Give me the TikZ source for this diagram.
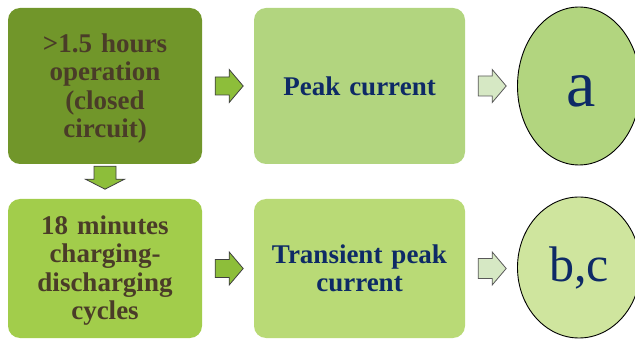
\documentclass[tikz,border=0pt]{standalone}
\usepackage{fontspec}
\setmainfont{Liberation Serif}
\usetikzlibrary{shapes.geometric,calc}

\definecolor{oliveDark}{HTML}{71962A}
\definecolor{limeMid}{HTML}{A2CD4B}
\definecolor{sageLight}{HTML}{B2D57F}
\definecolor{sageYellow}{HTML}{B9DA76}
\definecolor{paleLime}{HTML}{CFE59E}
\definecolor{arrowGreen}{HTML}{8DBE3A}
\definecolor{arrowPale}{HTML}{D6E8C4}
\definecolor{brownText}{HTML}{4A3C28}
\definecolor{navyText}{HTML}{0E2A66}

\tikzset{
  box/.style={rounded corners=12pt, inner sep=0pt, align=center,
    font=\fontsize{27}{28.5}\selectfont\bfseries},
  oval/.style={ellipse, draw=black, line width=0.9pt, inner sep=0pt,
    text=navyText},
  fatarrow/.style={fill=arrowGreen, draw=black!75, line width=0.8pt,
    line join=miter},
  palearrow/.style={fill=arrowPale, draw=black!65, line width=0.8pt,
    line join=miter},
}

\begin{document}
\begin{tikzpicture}[x=1pt,y=-1pt]
\useasboundingbox (0,0) rectangle (635,339);

% process boxes
\node[box, fill=oliveDark, text=brownText, minimum width=194pt, minimum height=156pt,
      text width=180pt] (op) at (105,86) {};
\node[box, text=brownText, text width=180pt] at ($(op.center)+(0,2.5)$)
      {>1.5 hours\\operation\\(closed\\circuit)};
\node[box, fill=limeMid, text=brownText, minimum width=194pt, minimum height=139pt,
      text width=180pt] (cyc) at (105,268.5) {};
\node[box, text=brownText, text width=180pt] at ($(cyc.center)+(0,2)$)
      {18 minutes\\charging-\\discharging\\cycles};
\node[box, fill=sageLight, text=navyText, minimum width=211pt, minimum height=156pt,
      text width=200pt] (peak) at (359.5,86) {Peak current};
\node[box, fill=sageYellow, text=navyText, minimum width=211pt, minimum height=139pt,
      text width=200pt] (trans) at (359.5,268.5) {Transient peak\\current};

% result ovals
\node[oval, fill=sageLight, minimum width=123pt, minimum height=158pt] (ra) at (579,86) {};
\node[text=navyText, inner sep=0pt, font=\fontsize{66}{66}\selectfont]
      at ($(ra.center)+(2,5)$) {a};
\node[oval, fill=paleLime, minimum width=123pt, minimum height=141pt,
      font=\fontsize{50}{50}\selectfont] (rbc) at (579,267.5) {b,c};

% block arrows between the boxes
\draw[fatarrow] ($(op.east)+(13,-9)$) -- ++(14,0) -- ++(0,-7.5) -- ++(14,16.5)
  -- ++(-14,16.5) -- ++(0,-7.5) -- ++(-14,0) -- cycle;
\draw[fatarrow] ($(cyc.east)+(13,-9)$) -- ++(14,0) -- ++(0,-7.5) -- ++(14,16.5)
  -- ++(-14,16.5) -- ++(0,-7.5) -- ++(-14,0) -- cycle;
\draw[fatarrow] ($(op.south)+(-11,2)$) -- ++(0,13) -- ++(-8.5,0) -- ++(19.5,10)
  -- ++(19.5,-10) -- ++(-8.5,0) -- ++(0,-13) -- cycle;
\draw[palearrow] ($(peak.east)+(13,-10)$) -- ++(14,0) -- ++(0,-6.5) -- ++(14,16.5)
  -- ++(-14,16.5) -- ++(0,-6.5) -- ++(-14,0) -- cycle;
\draw[palearrow] ($(trans.east)+(13,-10)$) -- ++(14,0) -- ++(0,-6.5) -- ++(14,16.5)
  -- ++(-14,16.5) -- ++(0,-6.5) -- ++(-14,0) -- cycle;
\end{tikzpicture}
\end{document}
